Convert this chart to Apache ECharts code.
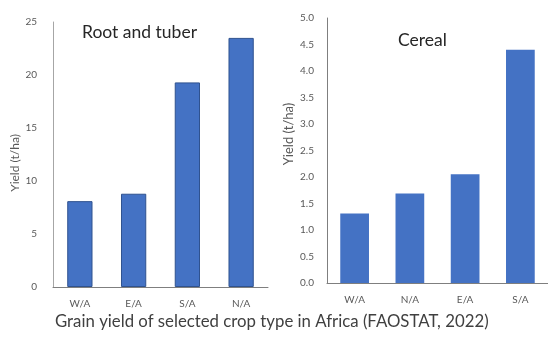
<!DOCTYPE html>
<html>
<head>
<meta charset="utf-8">
<script src="https://cdn.jsdelivr.net/npm/echarts@6/dist/echarts.min.js"></script>
<style>
  html, body { margin: 0; padding: 0; background: #ffffff; }
  #chart { width: 548px; height: 337px; }
</style>
</head>
<body>
<div id="chart"></div>
<script>
// Root and tuber yields by region (t/ha)
const rootCategories = ['W/A', 'E/A', 'S/A', 'N/A'];
const rootValues = [8.1, 8.8, 19.3, 23.5];

// Cereal yields by region (t/ha)
const cerealCategories = ['W/A', 'N/A', 'E/A', 'S/A'];
const cerealValues = [1.31, 1.69, 2.05, 4.4];

const FONT = 'Lato';
const BLUE = '#4472C4';
const TICK = '#595959';

const chart = echarts.init(document.getElementById('chart'), null, { renderer: 'canvas' });

chart.setOption({
  animation: false,
  backgroundColor: '#ffffff',
  title: [
    {
      text: 'Root and tuber',
      left: 82, top: 23, padding: 0,
      textStyle: { fontFamily: FONT, fontSize: 17.5, fontWeight: 'normal', color: '#262626' }
    },
    {
      text: 'Cereal',
      left: 398, top: 31, padding: 0,
      textStyle: { fontFamily: FONT, fontSize: 17.5, fontWeight: 'normal', color: '#262626' }
    },
    {
      text: 'Grain yield of selected crop type in Africa (FAOSTAT, 2022)',
      left: 55, top: 313, padding: 0,
      textStyle: { fontFamily: FONT, fontSize: 16.8, fontWeight: 'normal', color: '#404040' }
    }
  ],
  grid: [
    { left: 53, right: 280, top: 22, bottom: 50 },
    { left: 327, right: -9, top: 18, bottom: 54 }
  ],
  xAxis: [
    {
      type: 'category', gridIndex: 0, data: rootCategories,
      axisLine: { lineStyle: { color: '#7f7f7f', width: 1 } },
      axisTick: { show: false },
      axisLabel: { margin: 12, fontFamily: FONT, fontSize: 10, color: TICK }
    },
    {
      type: 'category', gridIndex: 1, data: cerealCategories,
      axisLine: { lineStyle: { color: '#7f7f7f', width: 1 } },
      axisTick: { show: false },
      axisLabel: { margin: 12, fontFamily: FONT, fontSize: 10, color: TICK }
    }
  ],
  yAxis: [
    {
      type: 'value', gridIndex: 0, min: 0, max: 25, interval: 5,
      name: 'Yield (t/ha)', nameLocation: 'middle', nameGap: 32, nameRotate: 90,
      nameTextStyle: { fontFamily: FONT, fontSize: 12, color: TICK, padding: [0, 17, 0, 0] },
      axisLine: { show: true, lineStyle: { color: '#a6a6a6', width: 1 } },
      axisTick: { show: false },
      splitLine: { show: false },
      axisLabel: { margin: 16, fontFamily: FONT, fontSize: 10, color: TICK }
    },
    {
      type: 'value', gridIndex: 1, min: 0, max: 5, interval: 0.5,
      name: 'Yield (t/ha)', nameLocation: 'middle', nameGap: 32, nameRotate: 90,
      nameTextStyle: { fontFamily: FONT, fontSize: 13, color: TICK, padding: [0, 0, 0, 33] },
      axisLine: { show: true, lineStyle: { color: '#7f7f7f', width: 1 } },
      axisTick: { show: false },
      splitLine: { show: false },
      axisLabel: {
        margin: 13, fontFamily: FONT, fontSize: 10, color: TICK,
        formatter: v => v.toFixed(1)
      }
    }
  ],
  series: [
    {
      type: 'bar', xAxisIndex: 0, yAxisIndex: 0, data: rootValues,
      barWidth: '47%',
      itemStyle: { color: BLUE, borderColor: '#2F528F', borderWidth: 1 }
    },
    {
      type: 'bar', xAxisIndex: 1, yAxisIndex: 1, data: cerealValues,
      barWidth: '52%',
      itemStyle: { color: BLUE }
    }
  ]
});
</script>
</body>
</html>
